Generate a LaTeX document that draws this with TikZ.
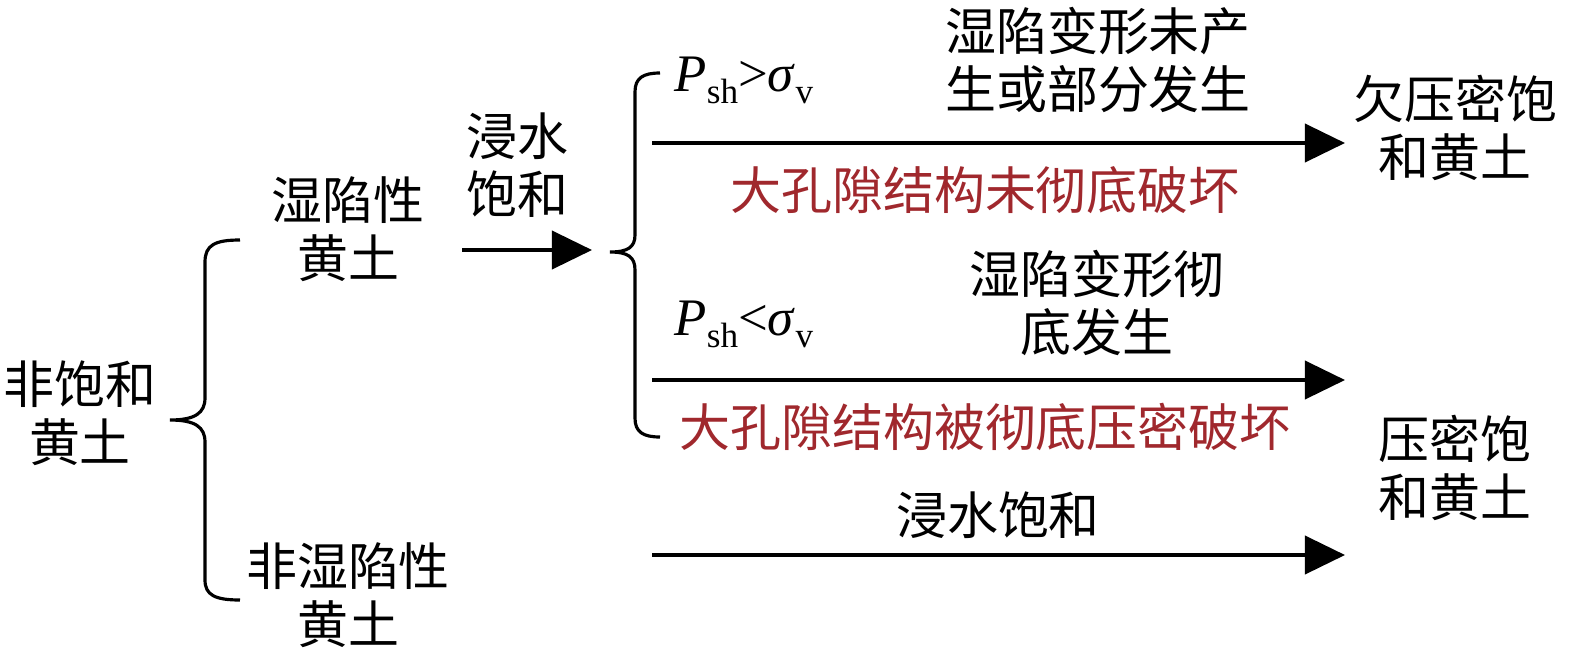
\documentclass[tikz,border=0pt]{standalone}
\usepackage{fontspec}
\setmainfont{Liberation Serif}
\newfontfamily\cjk{Noto Sans CJK SC}
\usetikzlibrary{arrows.meta}
\definecolor{darkred}{RGB}{160,40,45}
\newcommand{\subtxt}[1]{\raisebox{-0.5ex}{\fontsize{10}{10}\selectfont #1}}
\tikzset{
    txt/.style={font=\cjk\fontsize{14.5}{16.5}\selectfont, align=center, inner sep=0pt},
    redtxt/.style={txt, text=darkred},
    cond/.style={font=\fontsize{15}{17}\selectfont, anchor=west, inner sep=0pt},
    arr/.style={-{Triangle[length=4mm,width=3.8mm]}, line width=1.1pt},
    brc/.style={line width=0.9pt}
}
\begin{document}
\begin{tikzpicture}[x=0.01cm, y=-0.01cm]
            \useasboundingbox (0,0) rectangle (1575,660);

            \node[txt] (U) at (80,413) {非饱和\\黄土};
            \node[txt] (C) at (348,229) {湿陷性\\黄土};
            \node[txt] (N) at (348,595) {非湿陷性\\黄土};
            \node[txt] (W) at (517,165) {浸水\\饱和};

            \node[cond] (G) at (674,80) {\textit{P}\subtxt{sh}>\textit{σ}\subtxt{v}};
            \node[cond] (L) at (674,324) {\textit{P}\subtxt{sh}<\textit{σ}\subtxt{v}};

            \node[txt] (D1) at (1098,60) {湿陷变形未产\\生或部分发生};
            \node[redtxt] (R1) at (985,190) {大孔隙结构未彻底破坏};
            \node[txt] (D2) at (1097,303) {湿陷变形彻\\底发生};
            \node[redtxt] (R2) at (985,427) {大孔隙结构被彻底压密破坏};
            \node[txt] (D3) at (998,515) {浸水饱和};

            \node[txt] (S1) at (1455,128) {欠压密饱\\和黄土};
            \node[txt] (S2) at (1455,468) {压密饱\\和黄土};

            \coordinate (a0) at (462,250);
            \coordinate (b0) at (592,250);
            \coordinate (a1) at (652,143);
            \coordinate (b1) at (1345,143);
            \coordinate (a2) at (652,380);
            \coordinate (b2) at (1345,380);
            \coordinate (a3) at (652,555);
            \coordinate (b3) at (1345,555);

            % braces
            \draw[brc] (240,240) .. controls (215,240) and (205,245) .. (205,262) -- (205,398)
                .. controls (205,413) and (195,420) .. (170,420)
                .. controls (195,420) and (205,427) .. (205,442) -- (205,580)
                .. controls (205,595) and (215,600) .. (240,600);
            \draw[brc] (660,73) .. controls (643,73) and (635,78) .. (635,92) -- (635,235)
                .. controls (635,247) and (628,252) .. (610,252)
                .. controls (628,252) and (635,257) .. (635,270) -- (635,418)
                .. controls (635,432) and (643,437) .. (660,437);

            \draw[arr] (a0) -- (b0);
            \draw[arr] (a1) -- (b1);
            \draw[arr] (a2) -- (b2);
            \draw[arr] (a3) -- (b3);
        \end{tikzpicture}
\end{document}
